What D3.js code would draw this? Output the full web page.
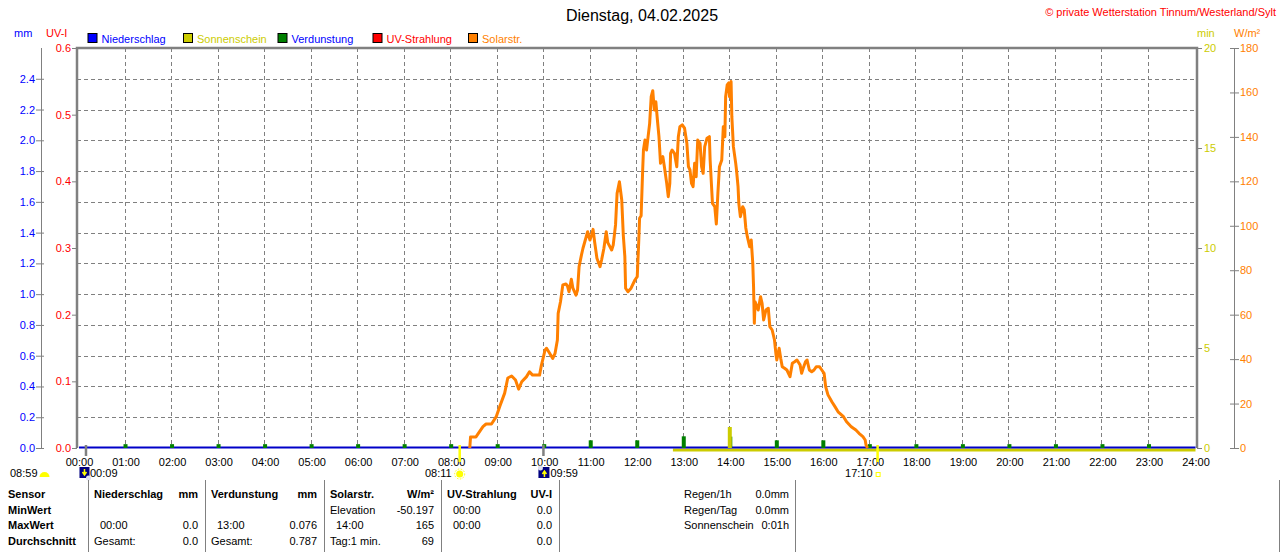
<!DOCTYPE html>
<html>
<head>
<meta charset="utf-8">
<script src="https://cdn.jsdelivr.net/npm/d3@7"></script>
<style>
  body { margin: 0; background: #fff; }
  text { font-family: "Liberation Sans", Arial, sans-serif; font-size: 11px; }
</style>
</head>
<body>
<div id="chart"></div>
<script>
// Chart values
var hourLabels = ["00:00","01:00","02:00","03:00","04:00","05:00","06:00","07:00","08:00","09:00","10:00","11:00","12:00",
  "13:00","14:00","15:00","16:00","17:00","18:00","19:00","20:00","21:00","22:00","23:00","24:00"];
var mmTicks = [0, 0.2, 0.4, 0.6, 0.8, 1.0, 1.2, 1.4, 1.6, 1.8, 2.0, 2.2, 2.4];
var uvTicks = [0, 0.1, 0.2, 0.3, 0.4, 0.5, 0.6];
var minTicks = [0, 5, 10, 15, 20];
var wTicks = [0, 20, 40, 60, 80, 100, 120, 140, 160, 180];

// Solarstrahlung W/m2
var solarTimes = ["08:24","08:25","08:32","08:41","08:45","08:52","08:58","09:03","09:09","09:13","09:18","09:23","09:27","09:31",
  "09:37","09:41","09:45","09:54","09:56","10:01","10:03","10:07","10:11","10:14","10:17","10:18","10:21","10:24","10:28","10:30",
  "10:32","10:35","10:37","10:41","10:43","10:45","10:48","10:50","10:53","10:56","10:59","11:01","11:03","11:05","11:08","11:12",
  "11:14","11:17","11:20","11:22","11:27","11:29","11:32","11:34","11:37","11:40","11:42","11:44","11:45","11:48","11:52","11:57",
  "12:00","12:02","12:03","12:05","12:07","12:08","12:10","12:12","12:14","12:16","12:18","12:20","12:22","12:24","12:26","12:28",
  "12:30","12:33","12:35","12:38","12:40","12:42","12:43","12:45","12:48","12:51","12:53","12:55","12:58","13:01","13:04","13:06",
  "13:08","13:10","13:12","13:14","13:16","13:18","13:21","13:23","13:25","13:27","13:30","13:33","13:34","13:37","13:40","13:42",
  "13:44","13:46","13:49","13:51","13:53","13:54","13:56","13:58","13:59","14:01","14:02","14:04","14:07","14:08","14:10","14:11",
  "14:13","14:16","14:18","14:20","14:22","14:24","14:25","14:27","14:29","14:30","14:31","14:32","14:36","14:39","14:41","14:43",
  "14:46","14:49","14:51","14:54","14:57","14:59","15:00","15:03","15:05","15:07","15:10","15:13","15:17","15:20","15:23","15:26",
  "15:30","15:32","15:34","15:37","15:39","15:42","15:45","15:48","15:51","15:55","15:58","16:01","16:03","16:06","16:11","16:15",
  "16:19","16:26","16:30","16:36","16:42","16:46","16:51","16:54","16:55","16:57"];
var solarValues = [0,5,5,9.6,10.8,10.8,14,19,24.7,31.5,32.4,30.6,26.5,29.8,
  32,34.3,32.8,32.8,36.6,44,44.9,42.6,40.3,42.6,48.6,60.6,65.8,73.4,73.8,72.9,
  70.3,75.9,71.9,68.8,71.1,81.6,86.8,89.9,93.6,97.3,93.6,95.8,98.4,92.8,85.4,81.6,
  84.6,89.9,97.3,92.4,89.1,91.3,100.4,114.6,119.8,111.6,95.8,86.1,71.9,70.3,71.9,75.6,
  77.1,93.6,103.4,104.5,125.1,134.1,138.6,134.1,140.1,146.1,158.1,160.8,152.1,155.8,147.6,140.1,
  128.1,131.1,126.6,119.1,113.1,119.1,132.6,134.1,132.6,126.6,140.1,144.6,145.4,143.9,137.1,126.6,
  125.1,119.1,117.6,128.1,122.1,138.6,137.1,126.6,123.6,135.6,139.4,140.1,129.6,110.1,108.6,100.8,
  114.6,126.6,129.6,144.6,140.1,158.1,163.4,164.3,158.1,164.9,149.1,135.6,128.1,125.1,117.6,110.1,
  104.1,108.6,107.1,99,95.1,92.1,90.6,93.6,83.1,72.6,56.1,65.8,62.1,68.1,65.1,57.6,
  62.1,62.9,54.6,53.1,48.6,41.9,39.6,44.9,40.4,36.6,35.9,35.1,32.1,38.1,38.8,39.6,
  37.4,33.6,35.9,38.8,39.6,35.1,34.3,35.1,36.6,36.6,35.1,33.6,27.6,23.9,20.8,18.6,
  16.3,14.1,11.8,9.6,8.1,6.6,5.1,3.6,1.4,0];

// Verdunstung mm per hour
var evapTimes = ["01:00","02:00","03:00","04:00","05:00","06:00","07:00","08:00","09:00","10:00","11:00","12:00",
  "13:00","14:00","15:00","16:00","17:00","18:00","19:00","20:00","21:00","22:00","23:00"];
var evapValues = [0.025,0.025,0.025,0.025,0.025,0.025,0.025,0.025,0.025,0.025,0.05,0.05,
  0.076,0.074,0.05,0.05,0.025,0.025,0.025,0.025,0.025,0.025,0.025];

// Niederschlag mm
var rainTimes = ["00:00","24:00"];
var rainValues = [0, 0];

// Sonnenschein min
var sunTimes = ["14:00"];
var sunValues = [1.05];
var sunLineTimes = ["12:46","24:00"];
var sunLineValues = [0, 0];

// Astro
var sunRise = "08:11", sunSet = "17:10", moonRise = "00:09", moonSet = "09:59", dayLength = "08:59";

// Table
var tableRowLabels = ["Sensor", "MinWert", "MaxWert", "Durchschnitt"];
var tableCols = [
  { x0: 88,  x1: 205, head: ["Niederschlag", "mm"],  rows: [["", ""], ["00:00", "0.0"], ["Gesamt:", "0.0"]] },
  { x0: 205, x1: 324, head: ["Verdunstung", "mm"],   rows: [["", ""], ["13:00", "0.076"], ["Gesamt:", "0.787"]] },
  { x0: 324, x1: 441, head: ["Solarstr.", "W/m\u00b2"], rows: [["Elevation", "-50.197"], ["14:00", "165"], ["Tag:1 min.", "69"]] },
  { x0: 441, x1: 559, head: ["UV-Strahlung", "UV-I"], rows: [["00:00", "0.0"], ["00:00", "0.0"], ["", "0.0"]] }
];
var summaryLabels = ["Regen/1h", "Regen/Tag", "Sonnenschein"];
var summaryValues = ["0.0mm", "0.0mm", "0:01h"];

var legendItems = [
  { name: "Niederschlag", fill: "#0000ff", text: "#0000ff" },
  { name: "Sonnenschein", fill: "#cccc00", text: "#cccc00" },
  { name: "Verdunstung",  fill: "#008000", text: "#0000ff" },
  { name: "UV-Strahlung", fill: "#ff0000", text: "#ff0000" },
  { name: "Solarstr.",    fill: "#ff8000", text: "#ff8000" }
];

function toHours(s) {
  var p = s.split(":");
  return +p[0] + (+p[1]) / 60;
}

var width = 1280, height = 552;
var plot = { left: 77, right: 1197, top: 48, bottom: 448 };

var svg = d3.select("#chart").append("svg")
  .attr("width", width)
  .attr("height", height);

// Scales
var x = d3.scaleLinear().domain([0, 24]).range([79, 1195.5]);
var yMm = d3.scaleLinear().domain([0, 2.6]).range([plot.bottom, plot.top]);
var yUv = d3.scaleLinear().domain([0, 0.6]).range([plot.bottom, plot.top]);
var yMin = d3.scaleLinear().domain([0, 20]).range([plot.bottom, plot.top]);
var yW = d3.scaleLinear().domain([0, 180]).range([plot.bottom, plot.top]);

var grey = "#808080";

// Title and copyright
svg.append("text").attr("x", 642).attr("y", 21).attr("text-anchor", "middle")
  .style("font-size", "16px").attr("fill", "#000").text("Dienstag, 04.02.2025");
svg.append("text").attr("x", 1276).attr("y", 16).attr("text-anchor", "end")
  .attr("fill", "#ff0000").text("\u00a9 private Wetterstation Tinnum/Westerland/Sylt");

// Unit labels
svg.append("text").attr("x", 14).attr("y", 37).attr("fill", "#0000ff").text("mm");
svg.append("text").attr("x", 46).attr("y", 37).attr("fill", "#ff0000").text("UV-I");
svg.append("text").attr("x", 1197).attr("y", 37).attr("fill", "#cccc00").text("min");
svg.append("text").attr("x", 1234).attr("y", 37).attr("fill", "#ff8000").text("W/m\u00b2");

// Legend
var legendX = [87.5, 183, 277.5, 372.5, 468];
var legend = svg.selectAll(".legend").data(legendItems).enter().append("g")
  .attr("transform", function(d, i) { return "translate(" + legendX[i] + ",33)"; });
legend.append("rect").attr("x", 0.5).attr("y", 0.5).attr("width", 9).attr("height", 9)
  .attr("fill", function(d) { return d.fill; }).attr("stroke", "#000");
legend.append("text").attr("x", 14).attr("y", 9.5)
  .attr("fill", function(d) { return d.text; }).text(function(d) { return d.name; });

// Grid
var grid = svg.append("g").attr("stroke", grey).attr("stroke-dasharray", "4,3").attr("stroke-width", 1);
grid.selectAll(".vg").data(hourLabels.slice(1, 24)).enter().append("line")
  .attr("x1", function(d) { return Math.round(x(toHours(d))) - 0.5; })
  .attr("x2", function(d) { return Math.round(x(toHours(d))) - 0.5; })
  .attr("y1", plot.top).attr("y2", plot.bottom);
grid.selectAll(".hg").data(mmTicks.slice(1)).enter().append("line")
  .attr("x1", plot.left).attr("x2", plot.right)
  .attr("y1", function(d) { return Math.round(yMm(d)) + 0.5; })
  .attr("y2", function(d) { return Math.round(yMm(d)) + 0.5; });

// Axes
function styleAxis(g, color) {
  g.selectAll(".tick line").attr("stroke", grey);
  g.selectAll(".domain").attr("stroke", grey);
  g.selectAll(".tick text").attr("fill", color)
    .style("font-family", "'Liberation Sans', Arial, sans-serif").style("font-size", "11px");
}

var mmAxis = svg.append("g").attr("transform", "translate(41,0)")
  .call(d3.axisLeft(yMm).tickValues(mmTicks).tickFormat(d3.format(".1f")).tickSize(5).tickSizeOuter(0).tickPadding(1));
mmAxis.select(".domain").attr("d", "M0.5," + plot.top + "V" + plot.bottom);
mmAxis.selectAll(".tick line").attr("x1", 3);
styleAxis(mmAxis, "#0000ff");

var uvAxis = svg.append("g").attr("transform", "translate(" + plot.left + ",0)")
  .call(d3.axisLeft(yUv).tickValues(uvTicks).tickFormat(d3.format(".1f")).tickSize(5).tickSizeOuter(0).tickPadding(1));
uvAxis.select(".domain").remove();
styleAxis(uvAxis, "#ff0000");

var minAxis = svg.append("g").attr("transform", "translate(" + plot.right + ",0)")
  .call(d3.axisRight(yMin).tickValues(minTicks).tickSize(5).tickSizeOuter(0).tickPadding(2));
minAxis.select(".domain").remove();
styleAxis(minAxis, "#cccc00");

var wAxis = svg.append("g").attr("transform", "translate(1234,0)")
  .call(d3.axisRight(yW).tickValues(wTicks).tickSize(5).tickSizeOuter(0).tickPadding(1));
wAxis.select(".domain").attr("d", "M0.5," + plot.top + "V" + plot.bottom);
wAxis.selectAll(".tick line").attr("x1", -4);
styleAxis(wAxis, "#ff8000");

var xAxis = svg.append("g").attr("transform", "translate(0,458)")
  .call(d3.axisBottom(x).tickValues(hourLabels.map(toHours))
    .tickFormat(function(d, i) { return hourLabels[i]; }).tickSize(0).tickPadding(0));
xAxis.select(".domain").remove();
styleAxis(xAxis, "#000");

// Plot border
svg.append("path")
  .attr("d", "M" + plot.left + "," + plot.bottom + "V" + plot.top + "H" + plot.right + "V" + plot.bottom)
  .attr("fill", "none").attr("stroke", grey).attr("stroke-width", 2.5);

// Sunshine line along the bottom
var sunLine = d3.line()
  .x(function(d) { return x(toHours(d)); })
  .y(function(d, i) { return yMin(sunLineValues[i]) + 2; });
svg.append("path").datum(sunLineTimes).attr("d", sunLine)
  .attr("fill", "none").attr("stroke", "#cccc00").attr("stroke-width", 3);

// Niederschlag line
var rainLine = d3.line()
  .x(function(d) { return x(toHours(d)); })
  .y(function(d, i) { return yMm(rainValues[i]) - 0.5; });
svg.append("path").datum(rainTimes).attr("d", rainLine)
  .attr("fill", "none").attr("stroke", "#0000c8").attr("stroke-width", 2);

// Verdunstung bars
svg.selectAll(".evap").data(evapTimes).enter().append("rect")
  .attr("x", function(d) { return x(toHours(d)) - 2; })
  .attr("width", 4)
  .attr("y", function(d, i) { return yMm(evapValues[i]); })
  .attr("height", function(d, i) { return yMm(0) - yMm(evapValues[i]); })
  .attr("fill", "#008000");

// Sonnenschein bar
svg.selectAll(".sun").data(sunTimes).enter().append("rect")
  .attr("x", function(d) { return x(toHours(d)) - 2.5; })
  .attr("width", 4)
  .attr("y", function(d, i) { return yMin(sunValues[i]); })
  .attr("height", function(d, i) { return yMin(0) - yMin(sunValues[i]); })
  .attr("fill", "#cccc00");

// Solar line
var solarLine = d3.line()
  .x(function(d) { return x(toHours(d)); })
  .y(function(d, i) { return yW(solarValues[i]); });
svg.append("path").datum(solarTimes).attr("d", solarLine)
  .attr("fill", "none").attr("stroke", "#ff8000").attr("stroke-width", 3)
  .attr("stroke-linejoin", "round");

// Astro markers on the axis
[sunRise, sunSet].forEach(function(t) {
  svg.append("line").attr("x1", x(toHours(t))).attr("x2", x(toHours(t)))
    .attr("y1", 445).attr("y2", 462).attr("stroke", "#ffff00").attr("stroke-width", 2.5);
});
[moonRise, moonSet].forEach(function(t) {
  svg.append("line").attr("x1", x(toHours(t))).attr("x2", x(toHours(t)))
    .attr("y1", 445).attr("y2", 456).attr("stroke", grey).attr("stroke-width", 2.5);
});

var astro = svg.append("g");
// day length with half sun
astro.append("text").attr("x", 10).attr("y", 477).text(dayLength);
astro.append("path").attr("d", "M39.5,477 A5,5 0 0 1 49.5,477 Z").attr("fill", "#ffff00");
// moonrise
var mr = x(toHours(moonRise));
astro.append("rect").attr("x", mr - 6.5).attr("y", 467).attr("width", 10).attr("height", 11).attr("fill", "#000080");
astro.append("path").attr("d", "M" + (mr - 1.5) + ",469 V475 M" + (mr - 3.5) + ",472 L" + (mr - 1.5) + ",475 L" + (mr + 0.5) + ",472")
  .attr("stroke", "#ffff00").attr("stroke-width", 1.5).attr("fill", "none");
astro.append("circle").attr("cx", mr + 2.5).attr("cy", 478).attr("r", 2.5).attr("fill", "#e0e0f0");
astro.append("text").attr("x", mr + 4).attr("y", 477).text(moonRise);
// sunrise
var sr = x(toHours(sunRise));
astro.append("text").attr("x", sr - 8).attr("y", 477).attr("text-anchor", "end").text(sunRise);
astro.append("circle").attr("cx", sr).attr("cy", 474).attr("r", 3.5).attr("fill", "#ffff00");
astro.append("circle").attr("cx", sr).attr("cy", 474).attr("r", 5).attr("fill", "none")
  .attr("stroke", "#ffff00").attr("stroke-dasharray", "1.5,1.5");
// moonset
var ms = x(toHours(moonSet));
astro.append("rect").attr("x", ms - 5).attr("y", 467).attr("width", 11).attr("height", 11).attr("fill", "#000080");
astro.append("circle").attr("cx", ms - 3).attr("cy", 468).attr("r", 2.5).attr("fill", "#e0e0f0");
astro.append("path").attr("d", "M" + (ms + 1) + ",477 V471 M" + (ms - 1) + ",474 L" + (ms + 1) + ",471 L" + (ms + 3) + ",474")
  .attr("stroke", "#ffff00").attr("stroke-width", 1.5).attr("fill", "none");
astro.append("text").attr("x", ms + 7).attr("y", 477).text(moonSet);
// sunset
var ss = x(toHours(sunSet));
astro.append("text").attr("x", ss - 5).attr("y", 477).attr("text-anchor", "end").text(sunSet);
astro.append("rect").attr("x", ss - 1.5).attr("y", 472.5).attr("width", 4).attr("height", 4)
  .attr("fill", "none").attr("stroke", "#ffff00");

// Table
var rowY = [498, 513.7, 529.4, 545];
var table = svg.append("g");
table.selectAll(".rl").data(tableRowLabels).enter().append("text")
  .attr("x", 8).attr("y", function(d, i) { return rowY[i]; })
  .attr("font-weight", "bold").text(function(d) { return d; });

var sepX = [88, 205, 324, 441, 559, 795, 1279];
table.selectAll(".sep").data(sepX).enter().append("line")
  .attr("x1", function(d) { return d + 0.5; }).attr("x2", function(d) { return d + 0.5; })
  .attr("y1", 480).attr("y2", 552).attr("stroke", grey);

tableCols.forEach(function(c) {
  table.append("text").attr("x", c.x0 + 6).attr("y", rowY[0]).attr("font-weight", "bold").text(c.head[0]);
  table.append("text").attr("x", c.x1 - 7).attr("y", rowY[0]).attr("font-weight", "bold")
    .attr("text-anchor", "end").text(c.head[1]);
  c.rows.forEach(function(r, i) {
    var lx = (r[0].indexOf(":") === 2) ? c.x0 + 12 : c.x0 + 6;
    table.append("text").attr("x", lx).attr("y", rowY[i + 1]).text(r[0]);
    table.append("text").attr("x", c.x1 - 7).attr("y", rowY[i + 1]).attr("text-anchor", "end").text(r[1]);
  });
});

summaryLabels.forEach(function(l, i) {
  table.append("text").attr("x", 684).attr("y", rowY[i]).text(l);
  table.append("text").attr("x", 789).attr("y", rowY[i]).attr("text-anchor", "end").text(summaryValues[i]);
});
</script>
</body>
</html>
